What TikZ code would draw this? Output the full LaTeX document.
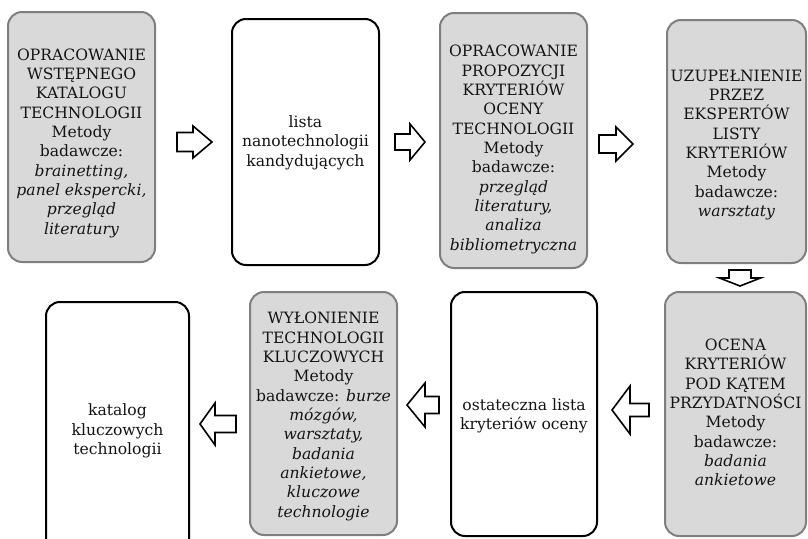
\documentclass[tikz,border=0pt]{standalone}
\usepackage{fontspec}
\setmainfont{DejaVu Serif}
\usetikzlibrary{calc}

\definecolor{stepfill}{HTML}{D9D9D9}
\definecolor{stepline}{HTML}{7F7F7F}
\definecolor{inktext}{HTML}{141414}

\tikzset{
  stepbox/.style={draw=stepline, fill=stepfill, line width=1.5pt,
    rounded corners=10.5pt, inner sep=0pt},
  resultbox/.style={draw=black, fill=white, line width=1.5pt,
    rounded corners=10.5pt, inner sep=0pt},
  boxtext/.style={align=center, text=inktext, inner sep=0pt,
    font=\fontsize{11.7}{14.5}\selectfont},
  blockarrow/.style={draw=black, fill=white, line width=1.2pt, line join=miter}
}

% horizontal block arrow: tail x, head base x, tip x, axis y, shaft half, head half
\newcommand{\harrow}[6]{%
  \draw[blockarrow] ({#1},{#4-#5}) -- ({#2},{#4-#5}) -- ({#2},{#4-#6})
    -- ({#3},{#4}) -- ({#2},{#4+#6}) -- ({#2},{#4+#5}) -- ({#1},{#4+#5}) -- cycle;}
% vertical block arrow: tail y, head base y, tip y, axis x, shaft half, head half
\newcommand{\varrow}[6]{%
  \draw[blockarrow] ({#4-#5},{#1}) -- ({#4-#5},{#2}) -- ({#4-#6},{#2})
    -- ({#4},{#3}) -- ({#4+#6},{#2}) -- ({#4+#5},{#2}) -- ({#4+#5},{#1}) -- cycle;}

\begin{document}
\begin{tikzpicture}[x=0.75pt, y=-0.75pt]
  \useasboundingbox (0,0) rectangle (808,539);
  \clip (0,0) rectangle (808,539);

  % process steps (grey) and results (white)
  \node[stepbox,   minimum width=110.25pt, minimum height=187.5pt]  (b1) at (81.5,137) {};
  \node[resultbox, minimum width=110.25pt, minimum height=184.5pt]  (b2) at (305.5,142) {};
  \node[stepbox,   minimum width=110.25pt, minimum height=191.25pt] (b3) at (513.5,140.5) {};
  \node[stepbox,   minimum width=104.25pt, minimum height=182.25pt] (b4) at (736.5,141.5) {};
  \node[stepbox,   minimum width=105.75pt, minimum height=183pt]    (b5) at (735.5,414) {};
  \node[resultbox, minimum width=109.5pt,  minimum height=183pt]    (b6) at (524,414) {};
  \node[stepbox,   minimum width=110.25pt, minimum height=182.25pt] (b7) at (323.5,413.5) {};
  \node[resultbox, minimum width=107.25pt, minimum height=193.5pt]  (b8) at (117.5,431) {};

  % texts
  \node[boxtext] (t1) at ($(b1.center)+(0,6)$) {OPRACOWANIE\\WSTĘPNEGO\\KATALOGU\\TECHNOLOGII\\Metody\\badawcze:\\\textit{brainetting,}\\\textit{panel ekspercki,}\\\textit{przegląd}\\\textit{literatury}};
  \node[boxtext] (t2) at ($(b2.center)+(0,0.5)$) {lista\\nanotechnologii\\kandydujących};
  \node[boxtext] (t3) at ($(b3.center)+(0,9)$) {OPRACOWANIE\\PROPOZYCJI\\KRYTERIÓW\\OCENY\\TECHNOLOGII\\Metody\\badawcze:\\\textit{przegląd}\\\textit{literatury,}\\\textit{analiza}\\\textit{bibliometryczna}};
  \node[boxtext] (t4) at ($(b4.center)+(0,3.5)$) {UZUPEŁNIENIE\\PRZEZ\\EKSPERTÓW\\LISTY\\KRYTERIÓW\\Metody\\badawcze:\\\textit{warsztaty}};
  \node[boxtext] (t5) at ($(b5.center)+(0,-1.5)$) {OCENA\\KRYTERIÓW\\POD KĄTEM\\PRZYDATNOŚCI\\Metody\\badawcze:\\\textit{badania}\\\textit{ankietowe}};
  \node[boxtext] (t6) at ($(b6.center)+(0,2)$) {ostateczna lista\\kryteriów oceny};
  \node[boxtext] (t7) at ($(b7.center)+(0,3)$) {WYŁONIENIE\\TECHNOLOGII\\KLUCZOWYCH\\Metody\\badawcze: \textit{burze}\\\textit{mózgów,}\\\textit{warsztaty,}\\\textit{badania}\\\textit{ankietowe,}\\\textit{kluczowe}\\\textit{technologie}};
  \node[boxtext] (t8) at (b8.center) {katalog\\kluczowych\\technologii};

  % flow arrows
  \harrow{177}{193}{212}{142}{9.5}{16}
  \harrow{395}{410}{425}{142}{8}{18}
  \harrow{599}{616}{633}{144}{9}{17}
  \varrow{270}{278}{286}{740}{11}{20.5}
  \harrow{649}{630}{612}{410}{6.5}{24}
  \harrow{439}{425}{407}{405}{8.5}{22}
  \harrow{236}{215}{200}{424}{8.5}{21}
\end{tikzpicture}
\end{document}
